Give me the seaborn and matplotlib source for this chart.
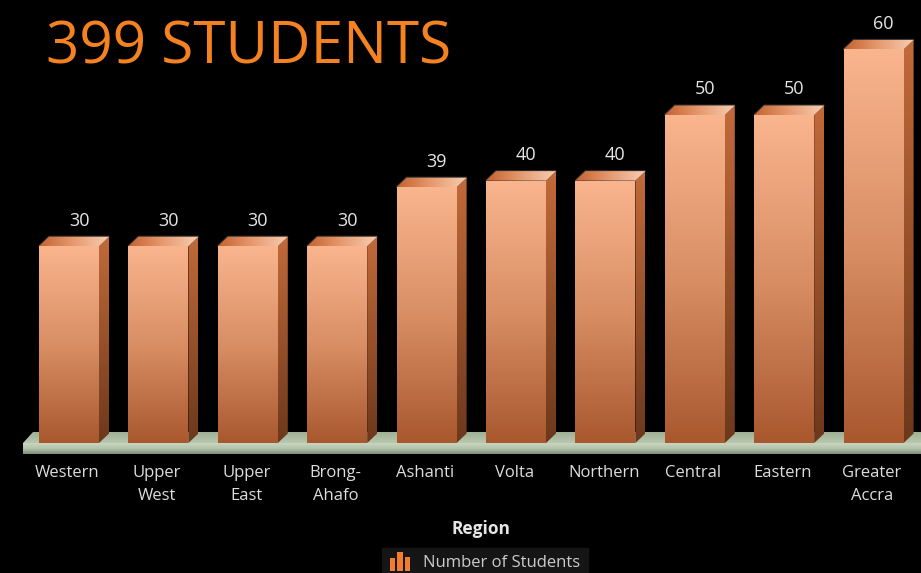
import matplotlib
matplotlib.use('Agg')
import matplotlib.pyplot as plt
import numpy as np
import pandas as pd
import seaborn as sns
from matplotlib.colors import LinearSegmentedColormap
from matplotlib.legend_handler import HandlerBase
from matplotlib.patches import Patch, Polygon, Rectangle
from matplotlib.transforms import ScaledTranslation

regions=['Western','Upper\nWest','Upper\nEast','Brong-\nAhafo','Ashanti','Volta','Northern','Central','Eastern','Greater\nAccra']
students=[30,30,30,30,39,40,40,50,50,60]
series_name='Number of Students'
title='399 STUDENTS'
xlabel='Region'

W,H=921,573
PX_X=1/89.4   # one pixel in category units
PX_Y=1/6.56   # one pixel in value units
DX,DY=10*PX_X,9.5*PX_Y

sns.set_theme(style='dark',rc={'figure.facecolor':'black','axes.facecolor':'black'})
plt.rcParams['font.family']=['Open Sans','DejaVu Sans']

df=pd.DataFrame({'region':regions,'students':students})

fig=plt.figure(figsize=(W/100,H/100),dpi=100)
ax=fig.add_axes([0,(H-443)/H,1,443/H])
sns.barplot(data=df,x='region',y='students',color='#d98d62',width=60*PX_X,linewidth=0,ax=ax,zorder=3)

def gradient(verts,colors,zorder,vertical=True):
    verts=np.array(verts)
    cmap=LinearSegmentedColormap.from_list('g',colors)
    g=np.linspace(0,1,256).reshape(-1,1) if vertical else np.linspace(0,1,256).reshape(1,-1)
    ext=(verts[:,0].min(),verts[:,0].max(),verts[:,1].min(),verts[:,1].max())
    im=ax.imshow(g,cmap=cmap,extent=ext,origin='upper',aspect='auto',zorder=zorder,interpolation='bilinear')
    clip=Polygon(verts,closed=True,transform=ax.transData)
    im.set_clip_path(clip)
    im.set_clip_box(fig.bbox)
    return im

# platform under the bars
x0,x1=-46*PX_X,(W-69)*PX_X
gradient([(x0,0),(x0+DX,11*PX_Y),(x1,11*PX_Y),(x1,0)],['#9fb096','#b9c8ae'],1)
gradient([(x0,0),(x1,0),(x1,-11*PX_Y),(x0,-11*PX_Y)],['#c9d5c0','#b4c3aa','#7d8c74'],2)

for bar,val in zip(ax.patches,students):
    l,r=bar.get_x(),bar.get_x()+bar.get_width()
    top=bar.get_height()
    gradient([(l,0),(r,0),(r,top),(l,top)],['#f9b58e','#d98e64','#a9582e'],4)
    gradient([(r,0),(r+DX,DY),(r+DX,top+DY),(r,top)],['#c26a3a','#6c381b'],4)
    gradient([(l,top),(l+DX,top+DY),(r+DX,top+DY),(r,top)],['#c4622f','#e79a70','#f7cdb2'],4,vertical=False)
    ax.add_patch(Polygon([(l,top),(l+DX,top+DY),(r+DX,top+DY),(r,top)],closed=True,fill=False,ec='white',lw=1.5,alpha=0.18,zorder=3))
    ax.annotate(str(val),xy=(r,top),xytext=(-20*0.72,25.5*0.72),textcoords='offset points',
                ha='center',va='center',color='#e6e6e6',fontsize=13,zorder=6)

ax.set_xlim(-69*PX_X,(W-69)*PX_X)
ax.set_ylim(0,443*PX_Y)
ax.set_yticks([])
ax.set_ylabel('')
ax.tick_params(axis='x',length=0,pad=16,colors='#dddddd',labelsize=12)
ax.set_xticks(range(len(regions)))
ax.set_xticklabels(regions,linespacing=1.6)
shift=ScaledTranslation(-1.5/100,0,fig.dpi_scale_trans)
for lab in ax.get_xticklabels():
    lab.set_transform(lab.get_transform()+shift)
ax.set_xlabel(xlabel,color='#e6e6e6',fontsize=12.5,fontweight='bold',x=481/W,labelpad=11)
for s in ax.spines.values():
    s.set_visible(False)
ax.grid(False)

fig.text(46/W,1-63/H,title,color='#f58220',fontsize=42,ha='left',va='baseline')

class BarsIcon(HandlerBase):
    def create_artists(self,legend,orig,xd,yd,width,height,fontsize,trans):
        out=[]
        for i,h in enumerate([0.75,1.3,0.9]):
            out.append(Rectangle((-xd+i*width*0.37,-yd-3),width*0.28,height*h+3,fc='#f07c2c',ec='none',transform=trans))
        return out

leg=fig.legend([Patch()],[series_name],handler_map={Patch:BarsIcon()},loc='center',
               bbox_to_anchor=(485/W,1-563/H),frameon=True,fontsize=12,labelcolor='#cccccc',
               facecolor='#151515',edgecolor='#151515',fancybox=False,framealpha=1,handlelength=1.2,handletextpad=0.8,borderpad=0.45)

fig.savefig('out.png',dpi=100,facecolor='black')
